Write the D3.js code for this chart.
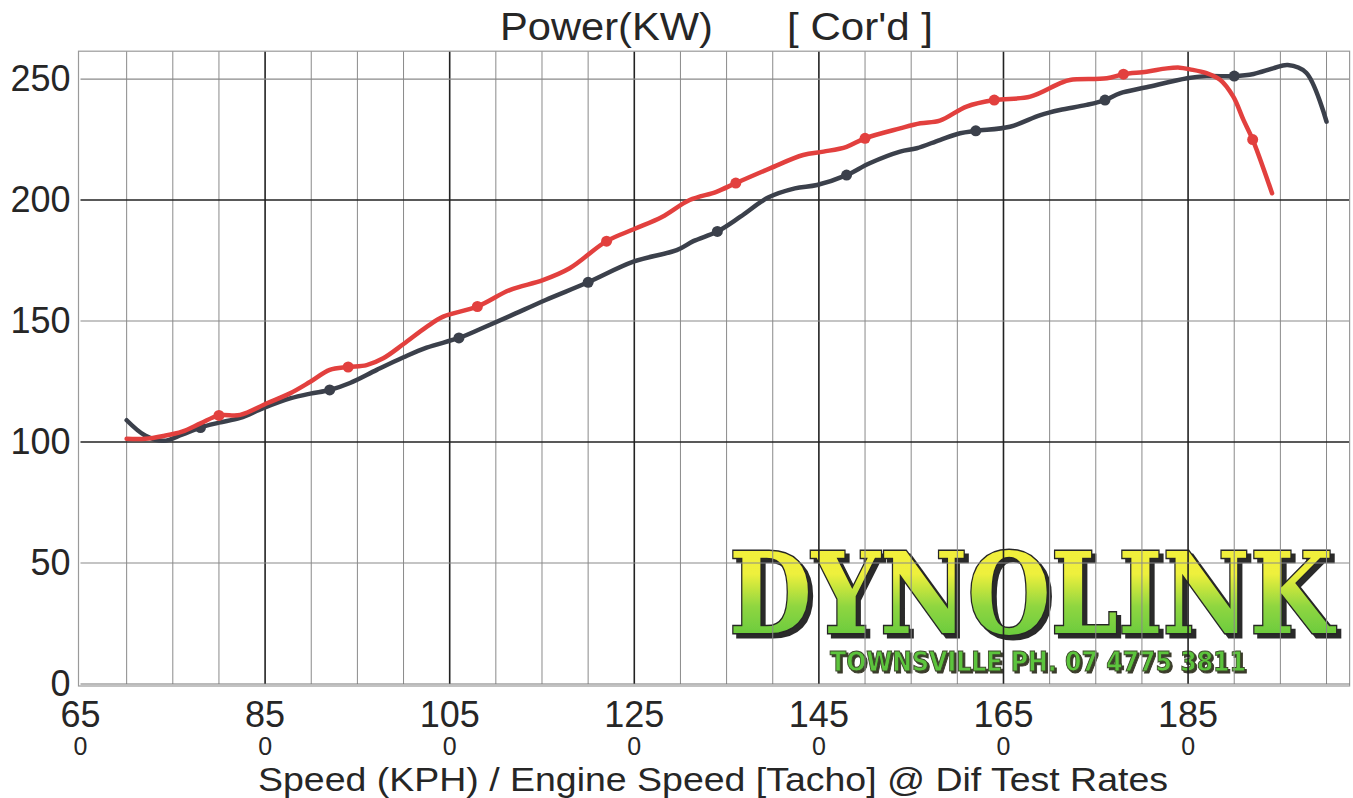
<!DOCTYPE html>
<html>
<head>
<meta charset="utf-8">
<script src="https://cdn.jsdelivr.net/npm/d3@7"></script>
<style>
  html, body { margin: 0; padding: 0; background: #fff; }
  svg { display: block; font-family: "Liberation Sans", Arial, sans-serif; }
</style>
</head>
<body>
<div id="chart"></div>
<script>
// speed (KPH) vs corrected power (KW)
const darkSpeed = [70, 72, 74, 76, 78, 80, 82.3, 84.8, 87.7, 89.9, 92, 94.2, 97.1, 100, 102.5, 106, 108.5, 111.5, 115.4, 120,
	124.9, 129.6, 131.4, 134, 136.5, 139.5, 142.4, 144.8, 148, 150.5, 153.8, 155.6, 158.1, 160.3, 162, 165.7, 169, 171.1, 174, 176,
	177.6, 180.5, 184.9, 187, 190, 192.1, 194.2, 195.8, 197.8, 200];
const darkPower = [109, 102.7, 100.5, 103, 106, 108, 110, 114, 118, 120, 121.5, 124.4, 129.8, 135, 139, 143, 147, 152, 158.7, 166,
	174.5, 179.3, 183, 187, 193.1, 201, 204.8, 206.2, 210.3, 215.2, 220, 221.4, 224.8, 227.6, 228.6, 230.3, 235.1, 237.2, 239.3, 241.3,
	244.1, 246.6, 250.3, 251.2, 251.2, 252.1, 254.4, 255.8, 252.6, 232.4];

const redSpeed = [70, 72, 74, 76, 78, 80, 82.3, 85.2, 87.7, 89.9, 92, 94, 96, 97.8, 100, 102.5, 104.3, 108, 111.5, 115.1, 118,
	122, 125, 128, 131, 133.9, 136, 139.7, 143.3, 145.5, 148, 150, 153.8, 156, 158.1, 161, 164, 167.9, 171.1, 172.2, 176.2, 178,
	180.5, 182.7, 184.1, 185.2, 187, 188.5, 189.9, 191, 192, 194.1];
const redPower = [101.3, 101.3, 102.5, 104.3, 107.7, 111, 111.2, 116, 120.1, 124.9, 129.8, 131, 131.8, 134.6, 140.5, 147.6, 151.8, 156, 162.8, 166.9, 171.8,
	183, 188, 193, 200, 203.4, 207, 213.1, 218.6, 220, 222, 225.5, 229.6, 231.7, 232.8, 238.6, 241.3, 242.7, 248.2, 249.6, 250.3, 252,
	253, 254.4, 254.7, 254, 252.4, 249.6, 242.7, 233.1, 225, 202.8];

// dots the dyno puts on each run
const darkMarkSpeed = [78, 92, 106, 120, 134, 148, 162, 176, 190];
const darkMarkPower = [106, 121.5, 143, 166, 187, 210.3, 228.6, 241.3, 251.2];
const redMarkSpeed = [80, 94, 108, 122, 136, 150, 164, 178, 192];
const redMarkPower = [111, 131, 156, 183, 207, 225.5, 241.3, 252, 225];

const xTicks = [65, 85, 105, 125, 145, 165, 185];
const yTicks = [0, 50, 100, 150, 200, 250];

const W = 1353, H = 798;
const svg = d3.select("#chart").append("svg").attr("width", W).attr("height", H);

const x = d3.scaleLinear().domain([65, 202.5]).range([80.5, 1349.6]);
const y = d3.scaleLinear().domain([0, 261.5]).range([684, 51.2]);

// logo first, grid is printed over it
const defs = svg.append("defs");
const grad = defs.append("linearGradient").attr("id", "logoGrad")
	.attr("x1", 0).attr("y1", 0).attr("x2", 0).attr("y2", 1);
grad.append("stop").attr("offset", "0%").attr("stop-color", "#f4ee3a");
grad.append("stop").attr("offset", "35%").attr("stop-color", "#eef03c");
grad.append("stop").attr("offset", "60%").attr("stop-color", "#8fd640");
grad.append("stop").attr("offset", "100%").attr("stop-color", "#4cc23c");

function shadow(id, dx, dy, color) {
	const f = defs.append("filter").attr("id", id)
		.attr("x", "-5%").attr("y", "-10%").attr("width", "115%").attr("height", "130%");
	f.append("feFlood").attr("flood-color", color).attr("result", "c");
	f.append("feComposite").attr("in", "c").attr("in2", "SourceAlpha").attr("operator", "in").attr("result", "sh");
	f.append("feOffset").attr("in", "sh").attr("dx", dx).attr("dy", dy).attr("result", "off");
	const m = f.append("feMerge");
	m.append("feMergeNode").attr("in", "off");
	m.append("feMergeNode").attr("in", "SourceGraphic");
}
shadow("bigShadow", 4, 4, "#2a2a2a");
shadow("smallShadow", 2, 2, "#3a3a2a");

const logo = svg.append("g").attr("class", "logo");
logo.append("text")
	.attr("x", 729).attr("y", 633)
	.attr("textLength", 604).attr("lengthAdjust", "spacingAndGlyphs")
	.style("font-family", "'DejaVu Serif', serif").style("font-weight", "bold")
	.style("font-size", "112px")
	.attr("fill", "url(#logoGrad)").attr("stroke", "#262626").attr("stroke-width", 3)
	.attr("paint-order", "stroke")
	.attr("filter", "url(#bigShadow)")
	.text("DYNOLINK");
logo.append("text")
	.attr("x", 830).attr("y", 671)
	.attr("textLength", 416).attr("lengthAdjust", "spacingAndGlyphs")
	.style("font-family", "'DejaVu Sans', sans-serif").style("font-weight", "bold")
	.style("font-size", "27px")
	.attr("fill", "#5cc43c").attr("stroke", "#3d4a2a").attr("stroke-width", 1)
	.attr("filter", "url(#smallShadow)")
	.text("TOWNSVILLE PH. 07 4775 3811");

// grid
const grid = svg.append("g").attr("class", "grid");
const minorX = d3.range(70, 202.5, 5).filter(v => (v - 65) % 20 !== 0);
grid.selectAll(".vminor").data(minorX).join("line")
	.attr("x1", d => x(d)).attr("x2", d => x(d))
	.attr("y1", y(261.5)).attr("y2", y(0))
	.attr("stroke", "#8a8a8a").attr("stroke-width", 1);
grid.selectAll(".vmajor").data(xTicks.slice(1)).join("line")
	.attr("x1", d => x(d)).attr("x2", d => x(d))
	.attr("y1", y(261.5)).attr("y2", y(0))
	.attr("stroke", "#222").attr("stroke-width", 1.6);
grid.selectAll(".h").data(yTicks.slice(1)).join("line")
	.attr("x1", x(65)).attr("x2", x(202.5))
	.attr("y1", d => y(d)).attr("y2", d => y(d))
	.attr("stroke", d => d % 100 === 0 ? "#222" : "#8a8a8a")
	.attr("stroke-width", d => d % 100 === 0 ? 1.6 : 1.2);
// frame
grid.append("rect")
	.attr("x", x(65) - 2).attr("y", y(261.5))
	.attr("width", x(202.5) - x(65) + 2).attr("height", y(0) - y(261.5) + 2)
	.attr("fill", "none").attr("stroke", "#9a9a9a").attr("stroke-width", 1.2);
grid.append("line")
	.attr("x1", x(65)).attr("x2", x(202.5)).attr("y1", y(0)).attr("y2", y(0))
	.attr("stroke", "#777").attr("stroke-width", 1.2);

// axes labels
const yAxis = d3.axisLeft(y).tickValues(yTicks).tickSize(0).tickPadding(10);
svg.append("g").attr("transform", `translate(${x(65)},0)`).call(yAxis)
	.call(g => g.select(".domain").remove())
	.selectAll("text")
	.style("font-family", "'Liberation Sans', Arial, sans-serif")
	.style("font-size", "36px").attr("fill", "#262626");

// "650" printed wrapped: "65" then "0" underneath
const xLabels = svg.append("g").attr("class", "xlabels");
const xl = xLabels.selectAll("text").data(xTicks).join("text")
	.attr("text-anchor", "middle").attr("fill", "#262626");
xl.append("tspan")
	.attr("x", d => x(d)).attr("y", 727)
	.style("font-size", "36px")
	.text(d => d);
xl.append("tspan")
	.attr("x", d => x(d)).attr("y", 755)
	.style("font-size", "25px")
	.text("0");

svg.append("text").attr("x", 258).attr("y", 791)
	.attr("textLength", 910).attr("lengthAdjust", "spacingAndGlyphs")
	.style("font-size", "33px").attr("fill", "#262626")
	.text("Speed (KPH) / Engine Speed [Tacho] @ Dif Test Rates");

svg.append("text").attr("x", 500).attr("y", 40)
	.attr("textLength", 213).attr("lengthAdjust", "spacingAndGlyphs")
	.style("font-size", "39px").attr("fill", "#262626")
	.text("Power(KW)");
svg.append("text").attr("x", 787).attr("y", 40)
	.attr("textLength", 146).attr("lengthAdjust", "spacingAndGlyphs")
	.style("font-size", "39px").attr("fill", "#262626")
	.text("[ Cor'd ]");

// runs
const line = d3.line()
	.x(d => x(d[0]))
	.y(d => y(d[1]))
	.curve(d3.curveCatmullRom.alpha(0.5));

const darkColor = "#3b404b", redColor = "#e2403e";

svg.append("path")
	.datum(d3.zip(darkSpeed, darkPower))
	.attr("fill", "none").attr("stroke", darkColor)
	.attr("stroke-width", 4.5).attr("stroke-linejoin", "round").attr("stroke-linecap", "round")
	.attr("d", line);
svg.append("g").selectAll("circle")
	.data(d3.zip(darkMarkSpeed, darkMarkPower))
	.join("circle")
	.attr("cx", d => x(d[0])).attr("cy", d => y(d[1]))
	.attr("r", 5.5).attr("fill", darkColor);

svg.append("path")
	.datum(d3.zip(redSpeed, redPower))
	.attr("fill", "none").attr("stroke", redColor)
	.attr("stroke-width", 4.5).attr("stroke-linejoin", "round").attr("stroke-linecap", "round")
	.attr("d", line);
svg.append("g").selectAll("circle")
	.data(d3.zip(redMarkSpeed, redMarkPower))
	.join("circle")
	.attr("cx", d => x(d[0])).attr("cy", d => y(d[1]))
	.attr("r", 5.5).attr("fill", redColor);
</script>
</body>
</html>
